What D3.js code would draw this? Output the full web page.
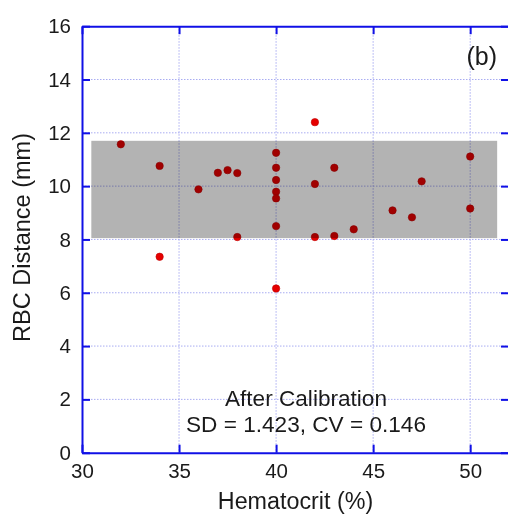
<!DOCTYPE html>
<html>
<head>
<meta charset="utf-8">
<script src="https://cdn.jsdelivr.net/npm/d3@7"></script>
<style>
  html, body { margin: 0; padding: 0; background: #fff; }
  svg { display: block; font-family: "Liberation Sans", Arial, sans-serif; }
</style>
</head>
<body>
<script>
// ---- data ----
const hematocrit = [32, 34, 34, 36, 37, 37.5, 38, 38,
  40, 40, 40, 40, 40, 40, 40,
  42, 42, 42, 43, 43, 44, 46, 47, 47.5, 50, 50];
const rbcDistance = [11.57, 10.76, 7.35, 9.88, 10.50, 10.60, 10.49, 8.09,
  11.25, 10.69, 10.23, 9.79, 9.54, 8.50, 6.16,
  12.40, 10.08, 8.09, 10.69, 8.13, 8.38, 9.09, 8.83, 10.18, 11.11, 9.16];
const bandX = [30.48, 51.39];
const bandY = [8.05, 11.70];
const xTicks = [30, 35, 40, 45, 50];
const yTicks = [0, 2, 4, 6, 8, 10, 12, 14, 16];
const xDomain = [30, 52];
const yDomain = [0, 16];
const xTitle = "Hematocrit (%)";
const yTitle = "RBC Distance (mm)";
const panelLabel = "(b)";
const noteLines = ["After Calibration", "SD = 1.423, CV = 0.146"];

// ---- layout ----
const W = 508, H = 517;
const pL = 82, pR = 509, pT = 26.2, pB = 452.7;
const blue = "#1010e6";

const svg = d3.select("body").append("svg").attr("width", W).attr("height", H);

const x = d3.scaleLinear().domain(xDomain).range([pL, pR]);
const y = d3.scaleLinear().domain(yDomain).range([pB, pT]);

// grid
const grid = svg.append("g").attr("stroke", "#a9acf2").attr("stroke-width", 1)
  .attr("stroke-dasharray", "1.5,1.5");
grid.selectAll("line.gx").data(xTicks.filter(d => d > xDomain[0])).join("line")
  .attr("x1", d => x(d)).attr("x2", d => x(d)).attr("y1", pT).attr("y2", pB);
grid.selectAll("line.gy").data(yTicks.filter(d => d > yDomain[0] && d < yDomain[1])).join("line")
  .attr("x1", pL).attr("x2", pR).attr("y1", d => y(d)).attr("y2", d => y(d));

// points
svg.append("g").selectAll("circle").data(hematocrit.map((h, i) => [h, rbcDistance[i]]))
  .join("circle")
  .attr("cx", d => x(d[0])).attr("cy", d => y(d[1])).attr("r", 3.7)
  .attr("fill", "#e60000").attr("stroke", "#c00000").attr("stroke-width", 0.6);

// band (multiply over grid & points)
svg.append("rect")
  .attr("x", x(bandX[0])).attr("width", x(bandX[1]) - x(bandX[0]))
  .attr("y", y(bandY[1])).attr("height", y(bandY[0]) - y(bandY[1]))
  .attr("fill", "#b3b3b3").style("mix-blend-mode", "multiply");

// axes
function styleAxis(g, showLabels) {
  g.select(".domain").attr("stroke", blue).attr("stroke-width", 2);
  g.selectAll(".tick line").attr("stroke", blue).attr("stroke-width", 2);
  g.selectAll(".tick text").attr("fill", "#1a1a1a").attr("font-size", 20.5)
    .attr("font-family", "Liberation Sans, Arial, sans-serif");
  if (!showLabels) g.selectAll(".tick text").remove();
}
svg.append("g").attr("transform", `translate(0,${pB})`)
  .call(d3.axisBottom(x).tickValues(xTicks).tickSizeInner(-8).tickSizeOuter(0).tickPadding(10.5))
  .call(g => styleAxis(g, true));
svg.append("g").attr("transform", `translate(0,${pT})`)
  .call(d3.axisTop(x).tickValues(xTicks).tickSizeInner(-8).tickSizeOuter(0))
  .call(g => styleAxis(g, false));
svg.append("g").attr("transform", `translate(${pL},0)`)
  .call(d3.axisLeft(y).tickValues(yTicks).tickSizeInner(-8).tickSizeOuter(0).tickPadding(11))
  .call(g => styleAxis(g, true));
svg.append("g").attr("transform", `translate(${pR},0)`)
  .call(d3.axisRight(y).tickValues(yTicks).tickSizeInner(-8).tickSizeOuter(0))
  .call(g => styleAxis(g, false));

// titles
svg.append("text").attr("x", 295.5).attr("y", 509).attr("text-anchor", "middle")
  .attr("font-size", 23.3).attr("fill", "#1a1a1a").text(xTitle);
svg.append("text").attr("transform", `translate(29.5,237.5) rotate(-90)`)
  .attr("text-anchor", "middle").attr("font-size", 23.5).attr("fill", "#1a1a1a").text(yTitle);
svg.append("text").attr("x", 497).attr("y", 65).attr("text-anchor", "end")
  .attr("font-size", 25).attr("fill", "#1a1a1a").text(panelLabel);
svg.append("g").selectAll("text").data(noteLines).join("text")
  .attr("x", 306).attr("y", (d, i) => 406 + i * 25.5).attr("text-anchor", "middle")
  .attr("font-size", 22.6).attr("fill", "#1a1a1a").text(d => d);
</script>
</body>
</html>
